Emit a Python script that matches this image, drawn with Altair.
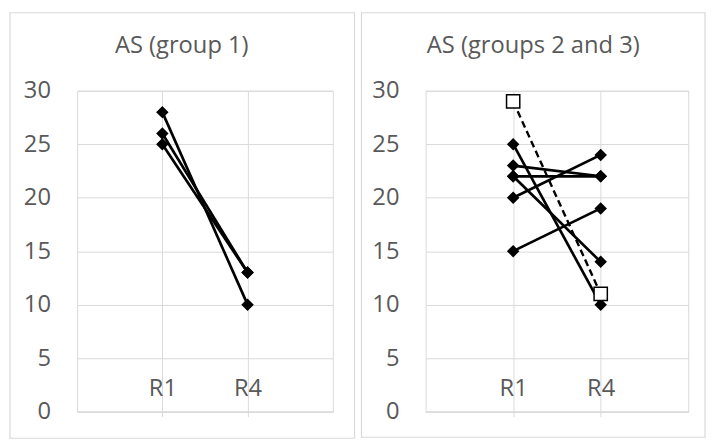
import altair as alt
import pandas as pd

# ---- data ----
categories = ["R1", "R4"]
cat_pos = [1, 2]

left_title = "AS (group 1)"
left_r1 = [28, 26, 25]
left_r4 = [10, 13, 13]

right_title = "AS (groups 2 and 3)"
right_r1 = [25, 23, 22, 22, 20, 15]
right_r4 = [10, 22, 22, 14, 24, 19]

dash_r1 = [29]
dash_r4 = [11]

y_ticks = [0, 5, 10, 15, 20, 25, 30]

FONT = "Open Sans"
GRID = "#d9d9d9"
TXT = "#595959"


def long_df(r1, r4, prefix):
    rows = []
    for i, (a, b) in enumerate(zip(r1, r4)):
        rows.append({"series": f"{prefix}{i}", "x": cat_pos[0], "value": a})
        rows.append({"series": f"{prefix}{i}", "x": cat_pos[1], "value": b})
    return pd.DataFrame(rows)


label_expr = " : ".join(
    [f"datum.value == {p} ? '{c}'" for p, c in zip(cat_pos, categories)]
) + " : ''"


def make_panel(solid_df, dash_df, title, width, title_dx, frame):
    x_enc = alt.X(
        "x:Q",
        scale=alt.Scale(domain=[0, 3], nice=False, zero=False),
        axis=alt.Axis(
            values=cat_pos,
            labelExpr=label_expr,
            title=None,
            grid=True,
            tickSize=5,
            tickColor=GRID,
            domainColor=GRID,
            labelPadding=-28,
            labelBaseline="middle",
        ),
    )
    y_enc = alt.Y(
        "value:Q",
        scale=alt.Scale(domain=[0, 30], nice=False),
        axis=alt.Axis(
            values=y_ticks,
            title=None,
            grid=True,
            tickSize=0,
            domain=False,
            labelPadding=27,
        ),
    )
    fx0, fx1, fy0, fy1 = frame
    frame_layer = (
        alt.Chart(pd.DataFrame({"f": [0]}))
        .mark_rect(fillOpacity=0, stroke=GRID, strokeWidth=1.2)
        .encode(
            x=alt.value(fx0), x2=alt.value(fx1), y=alt.value(fy0), y2=alt.value(fy1)
        )
    )
    base = alt.Chart(solid_df)
    lines = base.mark_line(color="black", strokeWidth=2.7).encode(
        x=x_enc, y=y_enc, detail="series:N"
    )
    pts = base.mark_point(
        shape="diamond", filled=True, color="black", size=160, opacity=1
    ).encode(x=x_enc, y=y_enc)
    layers = [frame_layer, lines, pts]
    if dash_df is not None:
        db = alt.Chart(dash_df)
        dl = db.mark_line(color="black", strokeWidth=2.4, strokeDash=[7, 4]).encode(
            x=x_enc, y=y_enc, detail="series:N"
        )
        dp = db.mark_point(
            shape="square", filled=True, fill="white", stroke="black",
            strokeWidth=1.5, size=180, opacity=1
        ).encode(x=x_enc, y=y_enc)
        layers += [dl, dp]
    return alt.layer(*layers).properties(
        width=width,
        height=325,
        title=alt.TitleParams(
            title, dx=title_dx, offset=-46, fontSize=24, font=FONT,
            color=TXT, fontWeight="normal", anchor="middle",
        ),
    )


left = make_panel(long_df(left_r1, left_r4, "a"), None, left_title, 259, -23.5,
                  (-68, 281, -79, 352))
right = make_panel(long_df(right_r1, right_r4, "b"), long_df(dash_r1, dash_r4, "d"),
                   right_title, 266, -24, (-65, 283, -79, 351))

chart = (
    alt.hconcat(left, right, spacing=3)
    .properties(padding=0, background="white")
    .configure_view(stroke=GRID, strokeWidth=1)
    .configure_axis(
        gridColor=GRID, gridWidth=1, labelFont=FONT, labelFontSize=24,
        labelColor=TXT,
    )
)

chart.save("out.html", embed_options={"renderer": "svg", "actions": False})
